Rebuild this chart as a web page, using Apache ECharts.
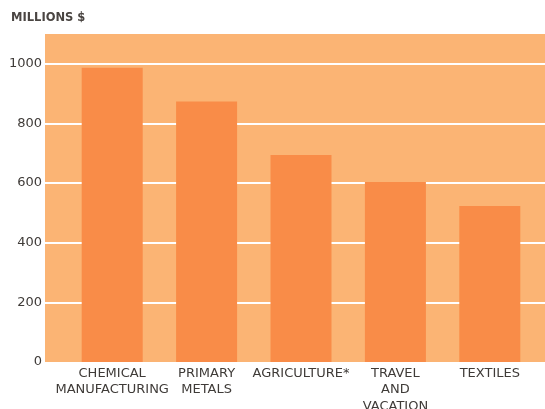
<!DOCTYPE html>
<html>
<head>
<meta charset="utf-8">
<script src="https://cdn.jsdelivr.net/npm/echarts@6/dist/echarts.min.js"></script>
<style>html,body{margin:0;padding:0;background:#fff;}#c{width:545px;height:409px;}</style>
</head>
<body>
<div id="c"></div>
<script>
const categories = ['CHEMICAL\nMANUFACTURING', 'PRIMARY\nMETALS', 'AGRICULTURE*', 'TRAVEL\nAND\nVACATION', 'TEXTILES'];
const values = [987, 874, 694, 604, 523];
const yTicks = [0, 200, 400, 600, 800, 1000];

const chart = echarts.init(document.getElementById('c'));
const textColor = '#3f3b38';
chart.setOption({
  animation: false,
  title: {
    text: 'MILLIONS $', left: 11, top: 12, padding: 0,
    textStyle: { fontFamily: 'DejaVu Sans', fontSize: 11.5, fontWeight: 'bold', color: '#4a4542' }
  },
  grid: [
    { left: 45, right: 0, top: 34, bottom: 47, show: true, backgroundColor: '#fbb474', borderWidth: 0, outerBoundsMode: 'none', containLabel: false },
    { left: 65, right: 8, top: 34, bottom: 47, outerBoundsMode: 'none', containLabel: false }
  ],
  xAxis: [
    { gridIndex: 0, type: 'value', show: false, min: 0, max: 1 },
    { gridIndex: 1, type: 'category', data: categories,
      axisLine: { show: false }, axisTick: { show: false },
      axisLabel: { interval: 0, margin: 3, fontFamily: 'DejaVu Sans', fontSize: 13, lineHeight: 16.5, color: textColor }
    }
  ],
  yAxis: [
    { gridIndex: 0, type: 'value', min: 0, max: 1100, interval: 200,
      axisLine: { show: false }, axisTick: { show: false },
      axisLabel: { showMaxLabel: false, margin: 3, fontFamily: 'DejaVu Sans', fontSize: 13, color: textColor,
        formatter: v => yTicks.indexOf(v) >= 0 ? String(v) : '' },
      splitLine: { show: true, showMinLine: false, showMaxLine: false, lineStyle: { color: '#ffffff', width: 2 } }
    },
    { gridIndex: 1, type: 'value', min: 0, max: 1100, show: false, splitLine: { show: false } }
  ],
  series: [{
    type: 'bar', xAxisIndex: 1, yAxisIndex: 1, data: values, barWidth: 61,
    itemStyle: { color: '#f98c48' }, z: 5
  }]
});
</script>
</body>
</html>
